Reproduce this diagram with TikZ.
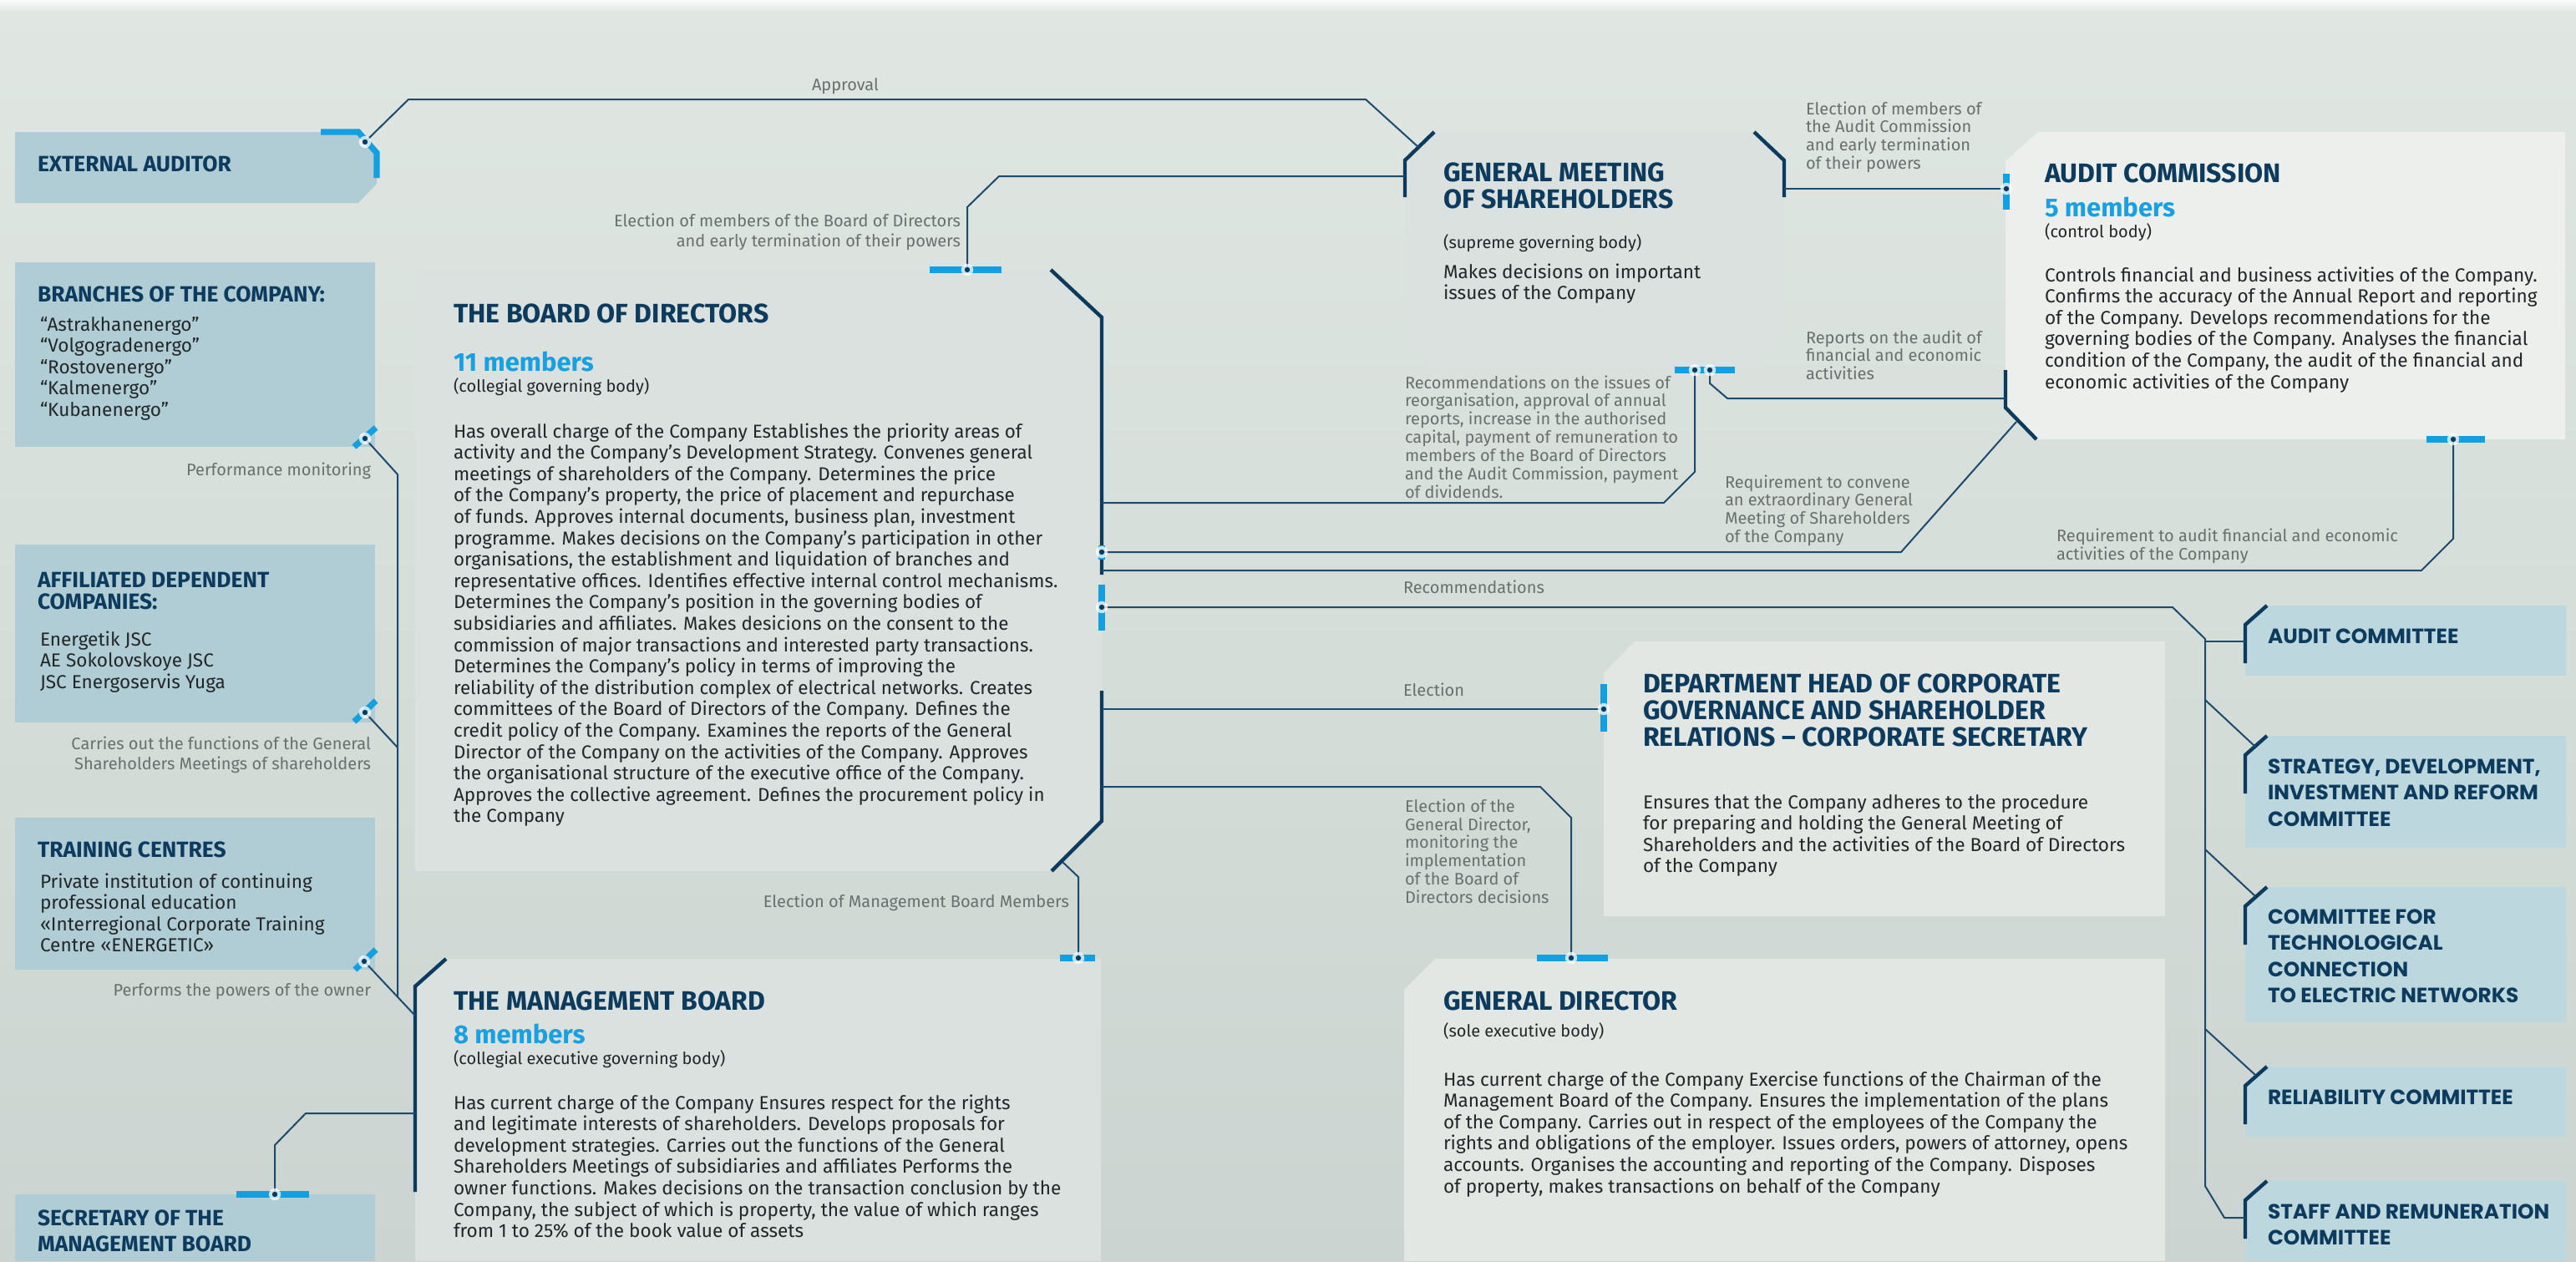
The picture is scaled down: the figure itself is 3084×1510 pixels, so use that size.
\documentclass[tikz,border=0pt]{standalone}
\usepackage{fontspec}
\setmainfont{Fira Sans}
\newfontfamily\commfont{Poppins}
\definecolor{navy}{HTML}{0D3B5E}
\definecolor{linec}{HTML}{1E4B6C}
\definecolor{cyanc}{HTML}{139FE0}
\definecolor{memc}{HTML}{1AA0E0}
\definecolor{greyt}{HTML}{6A6F6F}
\definecolor{bodyc}{HTML}{22272A}
\definecolor{leftbox}{HTML}{B0CCD4}
\definecolor{commbox}{HTML}{BCD7DD}
\definecolor{bgtop}{HTML}{E0E7E2}
\definecolor{bgbot}{HTML}{CBD4D0}
\definecolor{boxA}{HTML}{DAE1DE}
\definecolor{boxAC}{HTML}{ECEFEC}
\definecolor{boxB}{HTML}{E2E7E3}
\newcommand{\myBody}{\fontsize{11.2}{12.8}\selectfont}
\newcommand{\myBodyL}{\fontsize{11.3}{12.8}\selectfont}
\newcommand{\myLbl}{\fontsize{10}{10.65}\selectfont}
\newcommand{\myLblW}{\fontsize{10}{12}\selectfont}
\newcommand{\myTtl}{\fontsize{16}{16}\selectfont\bfseries}
\newcommand{\myTtlS}{\fontsize{13.2}{13.2}\selectfont\bfseries}
\newcommand{\myMem}{\fontsize{15.5}{16}\selectfont\bfseries}
\newcommand{\mySub}{\fontsize{10}{11}\selectfont}
\newcommand{\myComm}{\commfont\fontsize{12.4}{15.75}\selectfont\bfseries}
\newcommand{\TL}[1]{\begin{tabular}[t]{@{}l@{}}#1\end{tabular}}
\newcommand{\TR}[1]{\begin{tabular}[t]{@{}r@{}}#1\end{tabular}}
\newcommand{\mk}[1]{\fill[white,opacity=0.75] (#1) circle (3.6pt); \fill[navy] (#1) circle (1.6pt);}
\tikzset{
  conn/.style={draw=linec, line width=1pt},
  accent/.style={draw=navy, line width=2.2pt},
  bluebar/.style={draw=cyanc, line width=3.6pt},
  txt/.style={inner sep=0pt, outer sep=0pt, anchor=base west},
  bodytxt/.style={txt, font=\myBody, text=bodyc},
  bodytxtl/.style={txt, font=\myBodyL, text=bodyc},
  ttl/.style={txt, font=\myTtl, text=navy},
  ttls/.style={txt, font=\myTtlS, text=navy},
  mem/.style={txt, font=\myMem, text=memc},
  subt/.style={txt, font=\mySub, text=bodyc},
  comm/.style={txt, font=\myComm, text=navy},
  lbl/.style={txt, font=\myLbl, text=greyt},
  rlbl/.style={inner sep=0pt, outer sep=0pt, anchor=base east, font=\myLblW, text=greyt}
}
\begin{document}
\begin{tikzpicture}[x=0.5pt,y=-0.5pt]
\useasboundingbox (0,0) rectangle (3084,1510);
\shade[top color=bgtop, bottom color=bgbot] (0,0) rectangle (3084,1510);
\shade[top color=white!85!bgtop, bottom color=bgtop] (0,0) rectangle (3084,14);

% ---------- boxes ----------
\fill[leftbox] (18,158) -- (429,158) -- (451,183) -- (451,220) -- (429,243) -- (18,243) -- cycle;
\fill[leftbox] (18,314) rectangle (449,535);
\fill[leftbox] (18,652) rectangle (449,865);
\fill[leftbox] (18,979) rectangle (449,1161);
\fill[leftbox] (18,1430) rectangle (449,1510);
\fill[boxA] (497,323) -- (1258,323) -- (1319,380) -- (1319,983) -- (1259,1043) -- (497,1043) -- cycle;
\fill[boxA] (1717,158) -- (2100,158) -- (2136,192) -- (2136,404) -- (2100,442) -- (1717,442) -- (1682,404) -- (1682,192) -- cycle;
\fill[boxAC] (2440,158) -- (3071,158) -- (3071,526) -- (2438,526) -- (2401,488) -- (2401,193) -- cycle;
\fill[boxB] (1957,768) -- (2592,768) -- (2592,1097) -- (1920,1097) -- (1920,806) -- cycle;
\fill[boxB] (1718,1148) -- (2592,1148) -- (2592,1510) -- (1681,1510) -- (1681,1185) -- cycle;
\fill[boxA] (534,1148) -- (1318,1148) -- (1318,1510) -- (497,1510) -- (497,1181) -- cycle;
\foreach \t/\b in {725/809, 881/1015, 1062/1224, 1277/1361, 1414/1510}{
  \fill[commbox] (2714,\t) -- (3072,\t) -- (3072,\b) -- (2688,\b) -- (2688,\t+23) -- cycle;
  \draw[accent] (2714,\t) -- (2688,\t+23) -- (2688,\t+69);
}

% ---------- accents ----------
\draw[accent] (1258,323) -- (1319,380) -- (1319,688);
\draw[accent] (1319,827) -- (1319,983) -- (1259,1043);
\draw[accent] (1682,236) -- (1682,192) -- (1717,158);
\draw[accent] (2100,158) -- (2136,192) -- (2136,236);
\draw[accent] (2401,443) -- (2401,488) -- (2438,526);
\draw[accent] (534,1148) -- (497,1181) -- (497,1427);

% ---------- blue bars ----------
\draw[bluebar] (384,158) -- (429,158) -- (451,183) -- (451,213);
\draw[bluebar] (424,535) -- (450,512);
\draw[bluebar] (424,864) -- (450,839);
\draw[bluebar] (425,1161) -- (450,1137);
\draw[bluebar] (283,1430) -- (370,1430);
\draw[bluebar] (1113,323) -- (1199,323);
\draw[bluebar] (1319,653) -- (1319,670);
\draw[bluebar] (1319,700) -- (1319,755);
\draw[bluebar] (2005,443) -- (2077,443);
\draw[bluebar] (2402,208) -- (2402,251);
\draw[bluebar] (2905,526) -- (2975,526);
\draw[bluebar] (1920,819) -- (1920,876);
\draw[bluebar] (1840,1147) -- (1925,1147);
\draw[bluebar] (1269,1147) -- (1311,1147);

% ---------- connector end points ----------
\coordinate (ea) at (437,170);
\coordinate (gmsA) at (1699,177);
\coordinate (bodT) at (1158,323);
\coordinate (gmsL) at (1682,211);
\coordinate (gmsR) at (2136,226);
\coordinate (acL) at (2402,226);
\coordinate (gmsB1) at (2029,443);
\coordinate (gmsB2) at (2047,443);
\coordinate (acAcc) at (2401,477);
\coordinate (acCh) at (2414,505);
\coordinate (acB) at (2937,526);
\coordinate (bodR1) at (1319,602);
\coordinate (bodR2) at (1319,661);
\coordinate (bodR3) at (1319,683);
\coordinate (bodR4) at (1319,727);
\coordinate (bodR5) at (1319,849);
\coordinate (bodR6) at (1319,942);
\coordinate (bodC) at (1272,1032);
\coordinate (dh) at (1920,849);
\coordinate (gd) at (1881,1147);
\coordinate (mb) at (1291,1147);
\coordinate (brM) at (437,525);
\coordinate (afM) at (437,853);
\coordinate (trM) at (436,1151);
\coordinate (mbL) at (497,1216);
\coordinate (secM) at (329,1430);
\coordinate (mbL2) at (497,1333);
\coordinate (spine) at (2640,765);
\coordinate (c1) at (2688,768);
\coordinate (c2) at (2700,894);
\coordinate (c3) at (2700,1073);
\coordinate (c4) at (2700,1287);
\coordinate (c5) at (2688,1458);

% ---------- connectors ----------
\draw[conn] (ea) -- (489,119) -- (1635,119) -- (gmsA);
\draw[conn] (bodT) -- (1158,248) -- (1196,211) -- (gmsL);
\draw[conn] (gmsR) -- (acL);
\draw[conn] (bodR1) -- (1992,602) -- (2029,565) -- (gmsB1);
\draw[conn] (gmsB2) -- (2047,459) -- (2068,477) -- (acAcc);
\draw[conn] (bodR2) -- (2276,661) -- (acCh);
\draw[conn] (bodR3) -- (2899,683) -- (2937,645) -- (acB);
\draw[conn] (bodR4) -- (2601,727) -- (spine) -- (2640,1420) -- (2663,1458) -- (c5);
\draw[conn] (2640,768) -- (c1);
\draw[conn] (2640,838) -- (c2);
\draw[conn] (2640,1017) -- (c3);
\draw[conn] (2640,1232) -- (c4);
\draw[conn] (bodR5) -- (dh);
\draw[conn] (bodR6) -- (1844,942) -- (1881,979) -- (gd);
\draw[conn] (bodC) -- (1291,1050) -- (mb);
\draw[conn] (brM) -- (476,568) -- (476,1194);
\draw[conn] (afM) -- (476,895);
\draw[conn] (trM) -- (mbL);
\draw[conn] (secM) -- (329,1371) -- (366,1333) -- (mbL2);

% ---------- markers ----------
\mk{ea} \mk{bodT} \mk{gmsB1} \mk{gmsB2} \mk{acL} \mk{acB} \mk{bodR2} \mk{bodR4}
\mk{dh} \mk{gd} \mk{mb} \mk{brM} \mk{afM} \mk{trM} \mk{secM}

% ---------- left column texts ----------
\node[ttls] (eaT) at (45,205) {EXTERNAL AUDITOR};
\node[ttls] (brT) at (45,361) {BRANCHES OF THE COMPANY:};
\node[bodytxtl] (brB) at (48,396) {\TL{“Astrakhanenergo”\\“Volgogradenergo”\\“Rostovenergo”\\“Kalmenergo”\\“Kubanenergo”}};
\node[ttls] (afT) at (45,703) {\TL{AFFILIATED DEPENDENT\\COMPANIES:}};
\node[bodytxtl] (afB) at (48,773) {\TL{Energetik JSC\\AE Sokolovskoye JSC\\JSC Energoservis Yuga}};
\node[ttls] (trT) at (45,1026) {TRAINING CENTRES};
\node[bodytxtl] (trB) at (48,1063) {\TL{Private institution of continuing\\professional education\\«Interregional Corporate Training\\Centre «ENERGETIC»}};
\node[ttls, font=\fontsize{13.2}{15.75}\selectfont\bfseries] (secT) at (45,1467) {\TL{SECRETARY OF THE\\MANAGEMENT BOARD}};

% ---------- board of directors ----------
\node[ttl] (bodTi) at (543,386) {THE BOARD OF DIRECTORS};
\node[mem] (bodM) at (543,444) {11 members};
\node[subt] (bodS) at (543,469) {(collegial governing body)};
\node[bodytxt] (bodB) at (543,524) {\TL{Has overall charge of the Company Establishes the priority areas of\\
activity and the Company’s Development Strategy. Convenes general\\
meetings of shareholders of the Company. Determines the price\\
of the Company’s property, the price of placement and repurchase\\
of funds. Approves internal documents, business plan, investment\\
programme. Makes decisions on the Company’s participation in other\\
organisations, the establishment and liquidation of branches and\\
representative offices. Identifies effective internal control mechanisms.\\
Determines the Company’s position in the governing bodies of\\
subsidiaries and affiliates. Makes desicions on the consent to the\\
commission of major transactions and interested party transactions.\\
Determines the Company’s policy in terms of improving the\\
reliability of the distribution complex of electrical networks. Creates\\
committees of the Board of Directors of the Company. Defines the\\
credit policy of the Company. Examines the reports of the General\\
Director of the Company on the activities of the Company. Approves\\
the organisational structure of the executive office of the Company.\\
Approves the collective agreement. Defines the procurement policy in\\
the Company}};

% ---------- general meeting ----------
\node[ttl] (gmsT) at (1728,217) {\TL{GENERAL MEETING\\OF SHAREHOLDERS}};
\node[subt] (gmsS) at (1728,297) {(supreme governing body)};
\node[bodytxtl] (gmsBd) at (1728,333) {\TL{Makes decisions on important\\issues of the Company}};

% ---------- audit commission ----------
\node[ttl] (acT) at (2448,218) {AUDIT COMMISSION};
\node[mem] (acM) at (2448,259) {5 members};
\node[subt] (acS) at (2448,284) {(control body)};
\node[bodytxtl] (acBd) at (2448,337) {\TL{Controls financial and business activities of the Company.\\
Confirms the accuracy of the Annual Report and reporting\\
of the Company. Develops recommendations for the\\
governing bodies of the Company. Analyses the financial\\
condition of the Company, the audit of the financial and\\
economic activities of the Company}};

% ---------- department head ----------
\node[ttl] (dhT) at (1967,829) {\TL{DEPARTMENT HEAD OF CORPORATE\\GOVERNANCE AND SHAREHOLDER\\RELATIONS – CORPORATE SECRETARY}};
\node[bodytxtl] (dhB) at (1967,968) {\TL{Ensures that the Company adheres to the procedure\\
for preparing and holding the General Meeting of\\
Shareholders and the activities of the Board of Directors\\
of the Company}};

% ---------- general director ----------
\node[ttl] (gdT) at (1728,1209) {GENERAL DIRECTOR};
\node[subt] (gdS) at (1728,1241) {(sole executive body)};
\node[bodytxtl] (gdB) at (1728,1300) {\TL{Has current charge of the Company Exercise functions of the Chairman of the\\
Management Board of the Company. Ensures the implementation of the plans\\
of the Company. Carries out in respect of the employees of the Company the\\
rights and obligations of the employer. Issues orders, powers of attorney, opens\\
accounts. Organises the accounting and reporting of the Company. Disposes\\
of property, makes transactions on behalf of the Company}};

% ---------- management board ----------
\node[ttl] (mbT) at (543,1209) {THE MANAGEMENT BOARD};
\node[mem] (mbM) at (543,1249) {8 members};
\node[subt] (mbS) at (543,1274) {(collegial executive governing body)};
\node[bodytxtl] (mbB) at (543,1328) {\TL{Has current charge of the Company Ensures respect for the rights\\
and legitimate interests of shareholders. Develops proposals for\\
development strategies. Carries out the functions of the General\\
Shareholders Meetings of subsidiaries and affiliates Performs the\\
owner functions. Makes decisions on the transaction conclusion by the\\
Company, the subject of which is property, the value of which ranges\\
from 1 to 25\% of the book value of assets}};

% ---------- committees ----------
\node[comm] (cm1) at (2715,770) {AUDIT COMMITTEE};
\node[comm] (cm2) at (2715,926) {\TL{STRATEGY, DEVELOPMENT,\\INVESTMENT AND REFORM\\COMMITTEE}};
\node[comm] (cm3) at (2715,1106) {\TL{COMMITTEE FOR\\TECHNOLOGICAL\\CONNECTION\\TO ELECTRIC NETWORKS}};
\node[comm] (cm4) at (2715,1322) {RELIABILITY COMMITTEE};
\node[comm] (cm5) at (2715,1459) {\TL{STAFF AND REMUNERATION\\COMMITTEE}};

% ---------- connector labels ----------
\node[lbl, anchor=base] (lApp) at (1012,108) {Approval};
\node[rlbl] (lBod) at (1150,271) {\TR{Election of members of the Board of Directors\\and early termination of their powers}};
\node[rlbl] (lPerf) at (444,569) {Performance monitoring};
\node[rlbl] (lCar) at (444,897) {\TR{Carries out the functions of the General\\Shareholders Meetings of shareholders}};
\node[rlbl] (lOwn) at (444,1192) {Performs the powers of the owner};
\node[rlbl] (lMB) at (1280,1086) {Election of Management Board Members};
\node[lbl] (lAC) at (2162,137) {\TL{Election of members of\\the Audit Commission\\and early termination\\of their powers}};
\node[lbl] (lRep) at (2162,411) {\TL{Reports on the audit of\\financial and economic\\activities}};
\node[lbl] (lRec) at (1682,465) {\TL{Recommendations on the issues of\\reorganisation, approval of annual\\reports, increase in the authorised\\capital, payment of remuneration to\\members of the Board of Directors\\and the Audit Commission, payment\\of dividends.}};
\node[lbl] (lConv) at (2065,584) {\TL{Requirement to convene\\an extraordinary General\\Meeting of Shareholders\\of the Company}};
\node[lbl] (lAud) at (2462,648) {\TL{Requirement to audit financial and economic\\activities of the Company}};
\node[lbl] (lRec2) at (1680,710) {Recommendations};
\node[lbl] (lEl) at (1680,833) {Election};
\node[lbl] (lGD) at (1682,972) {\TL{Election of the\\General Director,\\monitoring the\\implementation\\of the Board of\\Directors decisions}};
\end{tikzpicture}
\end{document}
